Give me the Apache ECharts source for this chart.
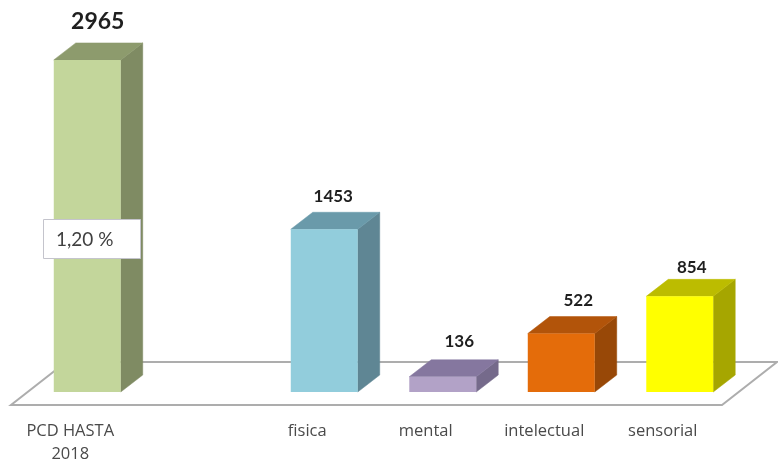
<!DOCTYPE html>
<html>
<head>
<meta charset="utf-8">
<style>html,body{margin:0;padding:0;background:#fff}#c{width:778px;height:460px}</style>
<script src="https://cdn.jsdelivr.net/npm/echarts@6/dist/echarts.min.js"></script>
</head>
<body>
<div id="c"></div>
<script>
const categories = ['PCD HASTA\n2018', '', 'fisica', 'mental', 'intelectual', 'sensorial'];
const values = [2965, null, 1453, 136, 522, 854];
const note = '1,20 %';

const frontColors = ['#C3D69B', null, '#92CDDC', '#B2A2C7', '#E46C0A', '#FFFF00'];
const sideColors = ['#7F8B63', null, '#5F8694', '#756A8B', '#984807', '#A6A600'];
const topColors = ['#8D9B6D', null, '#6A9AAA', '#85779F', '#B2540A', '#BCBC00'];
const labelNudge = [[10.5, -21, 23], null, [9, -16, 17], [16.5, -18, 17], [17, -16, 17], [12, -12, 17]];

const GAP_X = 17, GAP_Y = 13, DEPTH_X = 22, DEPTH_Y = 17;
const FLOOR_X = 55, FLOOR_Y = 43;

function poly(points, fill) {
  return { type: 'polygon', shape: { points }, style: { fill, stroke: fill, lineWidth: 0.5 } };
}

function renderFloor(params, api) {
  const band = api.size([1, 0])[0];
  const a = api.coord([0, 0]);
  const b = api.coord([categories.length - 1, 0]);
  const l = a[0] - band / 2, r = b[0] + band / 2, y = a[1];
  return {
    type: 'polygon',
    shape: { points: [[l, y], [r, y], [r + FLOOR_X, y - FLOOR_Y], [l + FLOOR_X, y - FLOOR_Y]] },
    style: { fill: '#fff', stroke: '#adadad', lineWidth: 2 }
  };
}

function renderBar(params, api) {
  const i = params.dataIndex;
  if (values[i] == null) return;
  const base = api.coord([i, 0]);
  const top = api.coord([i, values[i]]);
  const w = api.size([1, 0])[0] * 0.565;
  const x0 = base[0] + GAP_X - w / 2, x1 = x0 + w;
  const y0 = base[1] - GAP_Y, y1 = top[1] - GAP_Y;
  const n = labelNudge[i];
  return {
    type: 'group',
    children: [
      poly([[x1, y0], [x1 + DEPTH_X, y0 - DEPTH_Y], [x1 + DEPTH_X, y1 - DEPTH_Y], [x1, y1]], sideColors[i]),
      poly([[x0, y1], [x1, y1], [x1 + DEPTH_X, y1 - DEPTH_Y], [x0 + DEPTH_X, y1 - DEPTH_Y]], topColors[i]),
      { type: 'rect', shape: { x: x0, y: y1, width: w, height: y0 - y1 }, style: { fill: frontColors[i] } },
      {
        type: 'text',
        style: {
          x: base[0] + GAP_X + n[0],
          y: y1 - DEPTH_Y + n[1],
          text: String(values[i]),
          align: 'center',
          verticalAlign: 'middle',
          fill: '#1f1f1f',
          font: 'bold ' + n[2] + 'px Lato'
        }
      }
    ]
  };
}

const chart = echarts.init(document.getElementById('c'), null, { renderer: 'canvas' });
chart.setOption({
  animation: false,
  backgroundColor: '#fff',
  grid: { left: 11, width: 711, top: 69, height: 336, outerBoundsMode: 'none' },
  xAxis: {
    type: 'category',
    data: categories,
    axisLine: { show: false },
    axisTick: { show: false },
    axisLabel: {
      interval: 0,
      margin: 15,
      color: '#4a4a4a',
      fontFamily: 'Open Sans',
      fontSize: 16.5,
      lineHeight: 23
    }
  },
  yAxis: { type: 'value', min: 0, max: 3000, show: false, splitLine: { show: false } },
  series: [
    { type: 'custom', clip: false, z: 1, silent: true, renderItem: renderFloor, data: [[0, 0]], encode: { x: 0, y: 1 } },
    { type: 'custom', clip: false, z: 2, silent: true, renderItem: renderBar, data: categories.map((c, i) => [i, values[i] == null ? 0 : values[i]]), encode: { x: 0, y: 1 } }
  ],
  graphic: [{
    type: 'rect',
    z: 10,
    left: 43,
    top: 219,
    shape: { width: 97, height: 39 },
    style: { fill: '#fff', stroke: '#c4c4cc', lineWidth: 1 }
  }, {
    type: 'text',
    z: 11,
    left: 56,
    top: 230,
    style: { text: note, fill: '#404040', font: '19px Lato' }
  }]
});
</script>
</body>
</html>
